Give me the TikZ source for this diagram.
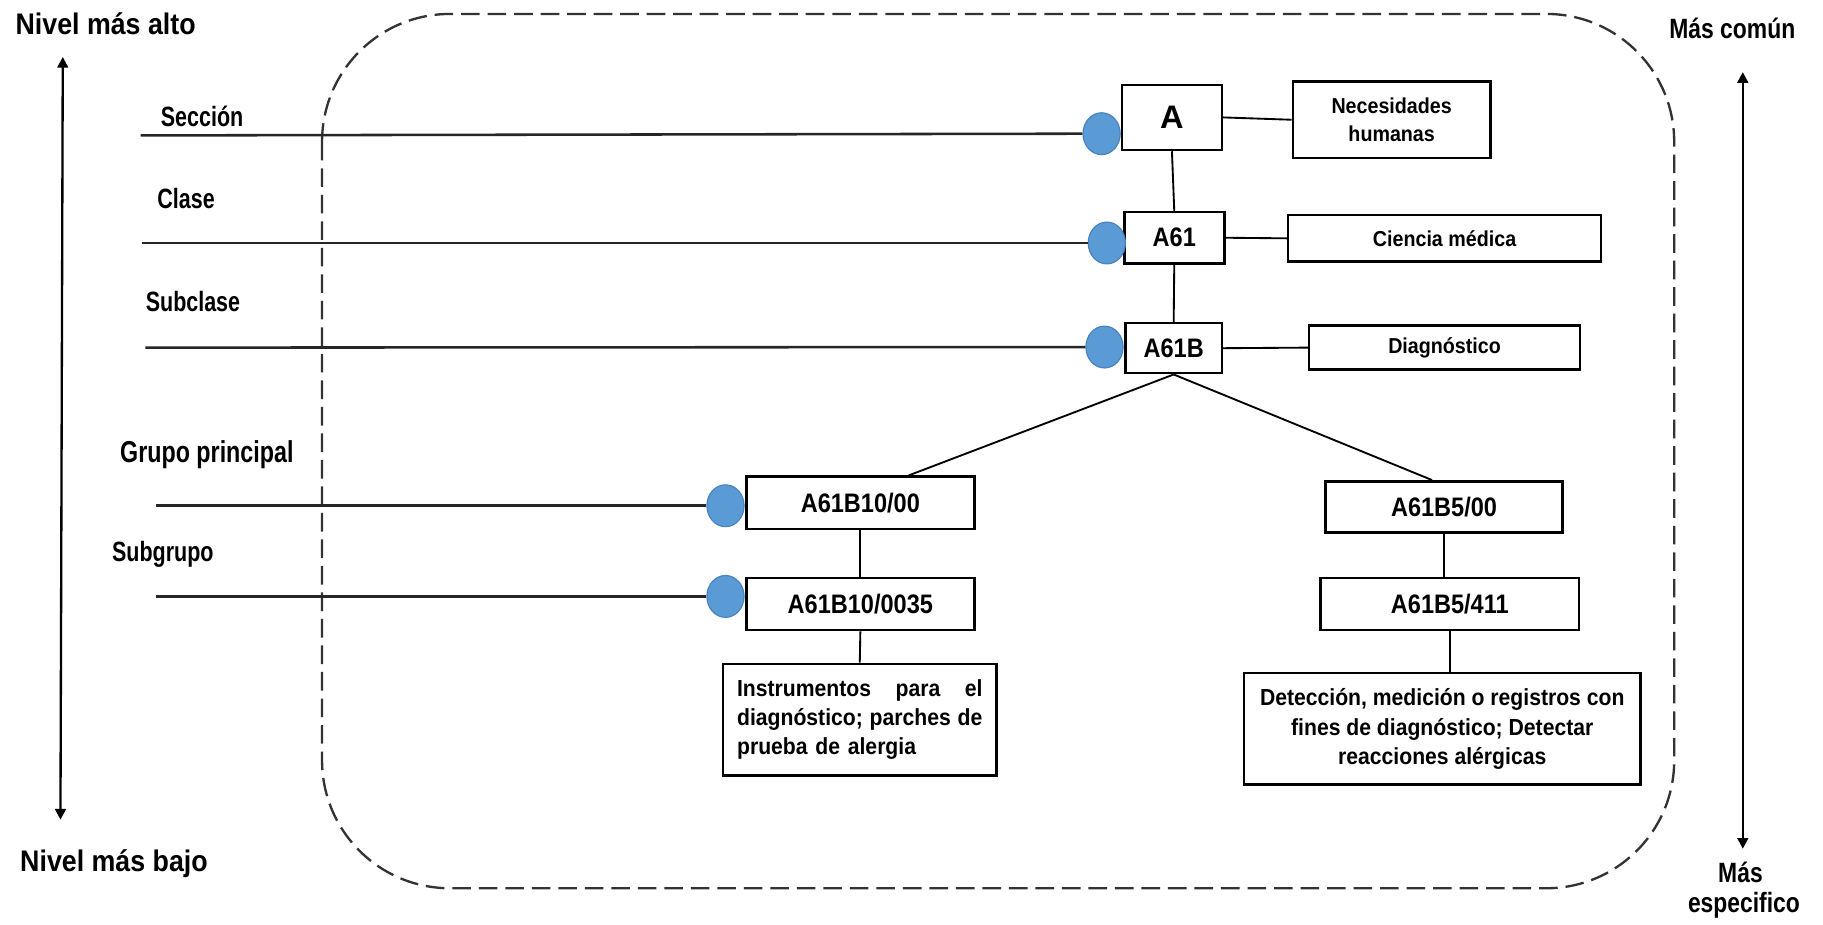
\documentclass[tikz,border=0pt]{standalone}
\usepackage{fontspec}
\setmainfont{Liberation Sans}
\newfontfamily\narA[FakeStretch=0.82]{Liberation Sans}
\newfontfamily\narB[FakeStretch=0.9]{Liberation Sans}
\newfontfamily\labfont[FakeStretch=0.77]{Liberation Sans}
\newfontfamily\codfont[FakeStretch=0.88]{Liberation Sans}
\newfontfamily\dscfont[FakeStretch=0.91]{Liberation Sans}
\usetikzlibrary{arrows.meta,shapes.geometric,calc}
\definecolor{dotblue}{RGB}{91,155,213}
\definecolor{dotedge}{RGB}{72,130,190}
\tikzset{
  frame/.style={draw=black!80, line width=1pt, dash pattern=on 8pt off 3.4pt, rounded corners=55pt},
  codebox/.style={draw, line width=1.1pt, inner sep=0pt, font=\codfont\bfseries\fontsize{11.5}{13}\selectfont},
  descbox/.style={draw, line width=1.1pt, inner sep=0pt, align=center, font=\dscfont\bfseries\fontsize{9.3}{12.3}\selectfont},
  notebox/.style={draw, line width=1.1pt, inner sep=0pt, font=\dscfont\bfseries\fontsize{10}{12.6}\selectfont},
  dot/.style={ellipse, fill=dotblue, draw=dotedge, line width=0.5pt, minimum width=16pt, minimum height=18pt, inner sep=0pt},
  lvl/.style={anchor=base west, inner sep=0pt, font=\labfont\bfseries\fontsize{12}{14}\selectfont},
  lvlline/.style={line width=1.1pt, draw=black!85},
  conn/.style={line width=0.8pt},
  scalearrow/.style={line width=1pt, {Triangle[width=4.6pt,length=4.6pt]}-{Triangle[width=4.6pt,length=4.6pt]}},
  endtxt/.style={inner sep=0pt, font=\narB\bfseries\fontsize{12.8}{14}\selectfont},
  sidetxt/.style={inner sep=0pt, anchor=base, font=\narA\bfseries\fontsize{12}{14}\selectfont}
}
\begin{document}
\begin{tikzpicture}[x=0.5pt, y=-0.5pt]
\useasboundingbox (0,0) rectangle (1568,795);

% enclosing dashed frame
\draw[frame] (277,12) rectangle (1440,764);

% left scale: highest to lowest level
\node[endtxt, anchor=base west] (hi) at (13,30) {Nivel más alto};
\node[endtxt, anchor=base west] (lo) at (17,750) {Nivel más bajo};
\coordinate (hiTip) at (54,49);
\coordinate (loTip) at (52,705);
\draw[scalearrow] (hiTip) -- (loTip);

% right scale: most common to most specific
\node[sidetxt] (com) at (1490,33) {Más común};
\node[sidetxt] (esp1) at (1497,759) {Más};
\node[sidetxt] (esp2) at (1500,785) {especifico};
\coordinate (comTip) at (1499,62);
\coordinate (espTip) at (1499,730);
\draw[scalearrow] (comTip) -- (espTip);

% level names
\node[lvl] (tSec) at (138,109) {Sección};
\node[lvl] (tCla) at (135,179) {Clase};
\node[lvl] (tSub) at (125,268) {Subclase};
\node[lvl, font=\labfont\bfseries\fontsize{13}{15}\selectfont] (tGru) at (103,398) {Grupo principal};
\node[lvl] (tSgr) at (96,483) {Subgrupo};

% classification codes
\node[codebox, minimum width=43pt, minimum height=28pt, font=\bfseries\fontsize{14}{16}\selectfont] (A) at (1008,101) {A};
\node[codebox, minimum width=43pt, minimum height=22pt] (A61) at (1010,204.5) {A61};
\node[codebox, minimum width=41.5pt, minimum height=21.5pt] (A61B) at (1009.5,299.5) {A61B};
\node[codebox, minimum width=98pt, minimum height=22.5pt] (g1) at (740,432.5) {A61B10/00};
\node[codebox, minimum width=102pt, minimum height=22pt] (g2) at (1242,436) {A61B5/00};
\node[codebox, minimum width=98pt, minimum height=22.5pt] (s1) at (740,519.5) {A61B10/0035};
\node[codebox, minimum width=111pt, minimum height=22.5pt] (s2) at (1247,519.5) {A61B5/411};

% descriptions
\node[descbox, minimum width=85pt, minimum height=33pt] (dA) at (1197,103) {Necesidades\\humanas};
\node[descbox, minimum width=134.5pt, minimum height=20pt] (dA61) at (1242.5,205) {Ciencia médica};
\node[descbox, minimum width=116.5pt, minimum height=19pt] (dA61B) at (1242.5,299) {Diagnóstico};
\node[notebox, text width=105.5pt, inner xsep=6pt, minimum height=48pt, align=left] (ds1) at (739.5,619)
  {\makebox[105.5pt][l]{Instrumentos\hfill para\hfill el}\\
   \makebox[105.5pt][l]{diagnóstico;\hfill parches\hfill de}\\
   prueba de alergia};
\node[notebox, minimum width=170.5pt, minimum height=48pt, align=center] (ds2) at (1240.5,627)
  {Detección, medición o registros con\\fines de diagnóstico; Detectar\\reacciones alérgicas};

% level markers
\node[dot] (c1) at (947.5,115) {};
\node[dot] (c2) at (952,209) {};
\node[dot] (c3) at (950,298.5) {};
\node[dot] (c4) at (624,435) {};
\node[dot] (c5) at (624,513) {};

% level lines
\coordinate (l1) at (121,116.5);
\coordinate (l2) at (122,209);
\coordinate (l3) at (125,299);
\coordinate (l4) at (134,435);
\coordinate (l5) at (134,513);
\draw[lvlline] (l1) -- (c1.west);
\draw[lvlline] (l2) -- (c2.west);
\draw[lvlline] (l3) -- (c3.west);
\draw[lvlline] (l4) -- (c4.west);
\draw[lvlline] (l5) -- (c5.west);

% hierarchy
\draw[conn] (A.south) -- (A61.north);
\draw[conn] (A61.south) -- (A61B.north);
\draw[conn] (A61B.south) -- ($(g1.north west)!0.71!(g1.north east)$);
\draw[conn] (A61B.south) -- ($(g2.north west)!0.45!(g2.north east)$);
\draw[conn] (g1.south) -- (s1.north);
\draw[conn] (s1.south) -- (ds1.north);
\draw[conn] (g2.south) -- (g2.south |- s2.north);
\draw[conn] (s2.south) -- (s2.south |- ds2.north);

% code to description
\draw[conn] (A.east) -- (dA.west);
\draw[conn] (A61.east) -- (dA61.west);
\draw[conn] (A61B.east) -- (dA61B.west);
\end{tikzpicture}
\end{document}
